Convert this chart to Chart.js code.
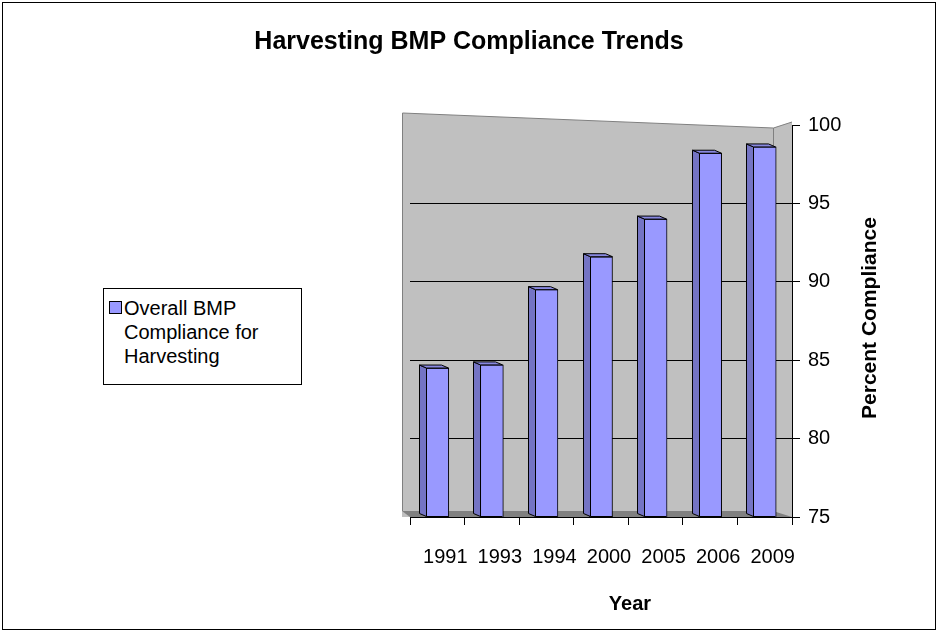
<!DOCTYPE html>
<html>
<head>
<meta charset="utf-8">
<script src="https://cdn.jsdelivr.net/npm/chart.js@4.4.1/dist/chart.umd.min.js"></script>
<style>
  html, body { margin: 0; padding: 0; background: #fff; }
  #wrap { position: relative; width: 938px; height: 632px; }
  #legend {
    position: absolute; left: 103px; top: 288px; width: 177px; height: 88px;
    border: 1px solid #000; background: #fff;
    padding: 7px 0 0 20px;
    font: 20px 'Liberation Sans', Arial, sans-serif; line-height: 24px; color: #000;
  }
  #legend .mark {
    position: absolute; left: 5px; top: 12px; width: 13px; height: 13px;
    box-sizing: border-box; border: 1px solid #000; background: #9999ff;
  }
</style>
</head>
<body>
<div id="wrap">
  <canvas id="chart" width="938" height="632"></canvas>
  <div id="legend"><span class="mark"></span>Overall BMP<br>Compliance for<br>Harvesting</div>
</div>
<script>
const years = ['1991', '1993', '1994', '2000', '2005', '2006', '2009'];
const compliance = [84.5, 84.7, 89.5, 91.6, 94.0, 98.2, 98.6];
const yTicks = [75, 80, 85, 90, 95, 100];

Chart.defaults.font.family = "'Liberation Sans', Arial, sans-serif";
Chart.defaults.color = '#000';

// grey back wall, side wall and floor behind the bars
const walls = {
    id: 'walls',
    beforeDraw(chart) {
        const ctx = chart.ctx;
        const a = chart.chartArea;
        const L = a.left - 8, C = a.right - 19, R = a.right;
        ctx.save();
        ctx.fillStyle = '#c0c0c0';
        ctx.beginPath();
        ctx.moveTo(L, a.top - 12);
        ctx.lineTo(C, a.top + 3);
        ctx.lineTo(R, a.top - 3);
        ctx.lineTo(R, a.bottom);
        ctx.lineTo(L, a.bottom);
        ctx.closePath();
        ctx.fill();
        ctx.strokeStyle = '#808080';
        ctx.lineWidth = 1;
        ctx.beginPath();
        ctx.moveTo(L + 0.5, a.bottom - 6);
        ctx.lineTo(L + 0.5, a.top - 12);
        ctx.lineTo(C + 0.5, a.top + 3);
        ctx.lineTo(R, a.top - 3);
        ctx.moveTo(C + 0.5, a.top + 3);
        ctx.lineTo(C + 0.5, a.bottom - 6);
        ctx.stroke();
        ctx.fillStyle = '#808080';
        ctx.beginPath();
        ctx.moveTo(L, a.bottom - 6);
        ctx.lineTo(C, a.bottom - 6);
        ctx.lineTo(R, a.bottom);
        ctx.lineTo(a.left, a.bottom);
        ctx.closePath();
        ctx.fill();
        ctx.restore();
    }
};

// dark side and top faces so the bars look like the 3-D columns
const bars3d = {
    id: 'bars3d',
    afterDatasetsDraw(chart) {
        const ctx = chart.ctx;
        const bottom = chart.chartArea.bottom;
        const dx = 7, dy = 3;
        chart.getDatasetMeta(0).data.forEach(bar => {
            const { x, y, width } = bar.getProps(['x', 'y', 'width'], true);
            const base = Math.round(bottom) - 0.5;
            const l = Math.round(x - width / 2) + 0.5, r = Math.round(x + width / 2) - 0.5;
            ctx.save();
            ctx.lineWidth = 1;
            ctx.strokeStyle = '#000';
            ctx.fillStyle = '#7474c4';
            ctx.beginPath();
            ctx.moveTo(l, y); ctx.lineTo(l - dx, y - dy); ctx.lineTo(l - dx, base - dy); ctx.lineTo(l, base);
            ctx.closePath(); ctx.fill(); ctx.stroke();
            ctx.fillStyle = '#8888e0';
            ctx.beginPath();
            ctx.moveTo(l, y); ctx.lineTo(l - dx, y - dy); ctx.lineTo(r - dx, y - dy); ctx.lineTo(r, y);
            ctx.closePath(); ctx.fill(); ctx.stroke();
            ctx.beginPath();
            ctx.moveTo(l, base); ctx.lineTo(r, base);
            ctx.stroke();
            ctx.restore();
        });
    }
};

// outer frame and the axis titles placed like the original
const frame = {
    id: 'frame',
    afterDraw(chart) {
        const ctx = chart.ctx;
        const a = chart.chartArea;
        ctx.save();
        ctx.strokeStyle = '#000';
        ctx.lineWidth = 1;
        ctx.strokeRect(2.5, 2.5, chart.width - 5, chart.height - 5);
        ctx.fillStyle = '#000';
        ctx.textAlign = 'center';
        ctx.textBaseline = 'middle';
        ctx.font = "bold 20px 'Liberation Sans', Arial, sans-serif";
        ctx.fillText('Year', (a.left + a.right) / 2 + 29, 604);
        ctx.translate(870, 318);
        ctx.rotate(-Math.PI / 2);
        ctx.font = "bold 21px 'Liberation Sans', Arial, sans-serif";
        ctx.fillText('Percent Compliance', 0, 0);
        ctx.restore();
    }
};

new Chart(document.getElementById('chart'), {
    type: 'bar',
    data: {
        labels: years,
        datasets: [{
            label: 'Overall BMP Compliance for Harvesting',
            data: compliance,
            backgroundColor: '#9999ff',
            borderColor: '#000',
            borderWidth: 1,
            barThickness: 23,
            yAxisID: 'y'
        }]
    },
    options: {
        responsive: false,
        animation: false,
        layout: { padding: { left: 0, right: 0, top: 0, bottom: 17 } },
        plugins: {
            legend: { display: false },
            tooltip: { enabled: false },
            title: {
                display: true,
                text: 'Harvesting BMP Compliance Trends',
                font: { size: 25, weight: 'bold' },
                color: '#000',
                padding: { top: 27, bottom: 68 }
            }
        },
        scales: {
            pad: {
                type: 'linear',
                position: 'left',
                display: true,
                ticks: { display: false },
                grid: { display: false },
                border: { display: false },
                afterFit: s => { s.width = 410; }
            },
            x: {
                grid: { drawOnChartArea: false, drawTicks: true, tickLength: 8, color: '#000', offset: true },
                border: { display: true, color: '#000' },
                ticks: { font: { size: 20 }, padding: 20, labelOffset: 8, maxRotation: 0, minRotation: 0 },
                title: { display: false },
                afterFit: s => { s.height = 98; }
            },
            y: {
                position: 'right',
                min: 75,
                max: 100,
                afterBuildTicks: s => { s.ticks = yTicks.map(v => ({ value: v })); },
                ticks: { font: { size: 20 }, padding: 8 },
                grid: {
                    color: c => (c.tick && (c.tick.value === 100 || c.tick.value === 75)) ? 'rgba(0,0,0,0)' : '#000',
                    tickColor: '#000',
                    tickLength: 8
                },
                border: { display: true, color: '#000' },
                afterFit: s => { s.width = 146; }
            }
        }
    },
    plugins: [walls, bars3d, frame]
});
</script>
</body>
</html>
